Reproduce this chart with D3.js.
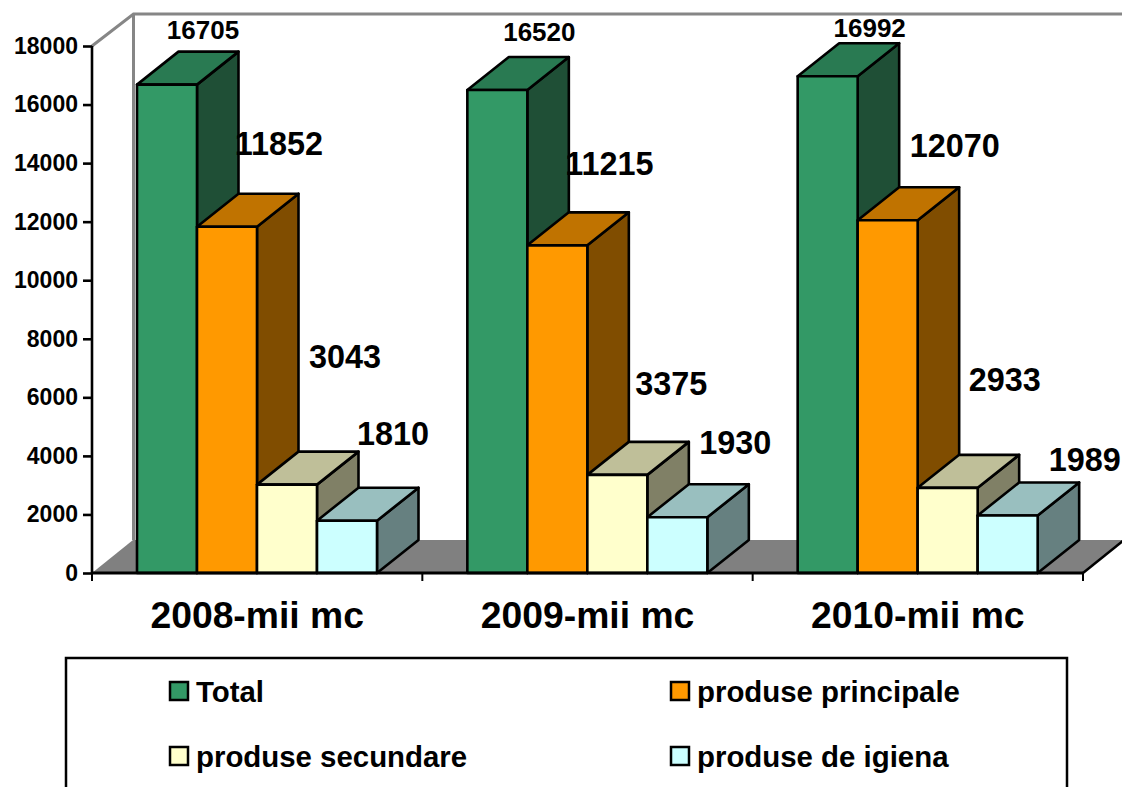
<!DOCTYPE html>
<html>
<head>
<meta charset="utf-8">
<script src="https://cdn.jsdelivr.net/npm/d3@7"></script>
<style>
  html, body { margin: 0; padding: 0; background: #fff; overflow: hidden; }
  svg { display: block; }
  text { font-family: "Liberation Sans", Arial, sans-serif; font-weight: bold; fill: #000; }
</style>
</head>
<body>
<svg id="chart" width="1122" height="787"></svg>
<script>
const categories = ["2008-mii mc", "2009-mii mc", "2010-mii mc"];
const seriesNames = ["Total", "produse principale", "produse secundare", "produse de igiena"];
const total = [16705, 16520, 16992];
const principale = [11852, 11215, 12070];
const secundare = [3043, 3375, 2933];
const igiena = [1810, 1930, 1989];
const yTicks = [0, 2000, 4000, 6000, 8000, 10000, 12000, 14000, 16000, 18000];

const seriesValues = [total, principale, secundare, igiena];
const frontColors = ["#339966", "#ff9900", "#ffffcc", "#ccffff"];
const topColors = ["#297a52", "#c07300", "#bfbf99", "#99bfbf"];
const sideColors = ["#1f4f36", "#804d00", "#808066", "#668080"];

// label positions relative to the bar's front top-right corner, hand placed like in the original
const labelOffsets = [
  [[6, -54], [22, -82], [28, -127], [16, -86]],
  [[12, -57], [22, -81], [24, -90], [28, -73]],
  [[12, -48], [37, -74], [27, -107], [47, -55]]
];

const svg = d3.select("#chart");
const depthX = 41.5, depthY = -33;
const topNudge = 0.7;

const x = d3.scaleBand().domain(categories).range([92, 1083]);
const y = d3.scaleLinear().domain([0, 18000]).range([573, 46]);
const inner = d3.scaleBand().domain(d3.range(seriesNames.length)).range([45, 285]);

const shape = pts => pts.map(p => p.join(",")).join(" ");

// floor
svg.append("polygon")
  .attr("points", shape([[92, 573], [133, 540], [1124, 540], [1083, 573]]))
  .attr("fill", "#808080");
svg.append("line")
  .attr("x1", 1083).attr("y1", 573).attr("x2", 1124).attr("y2", 540)
  .attr("stroke", "#000").attr("stroke-width", 2.5);

// back wall edges
svg.append("path")
  .attr("d", "M92,46L133.5,14L1122,14M133.5,14V540")
  .attr("fill", "none").attr("stroke", "#868686").attr("stroke-width", 3);

// bars, left to right so each one covers the side of the previous
const bars = svg.append("g").attr("stroke", "#000").attr("stroke-width", 2.6).attr("stroke-linejoin", "round");
categories.forEach((cat, c) => {
  seriesValues.forEach((vals, s) => {
    const x0 = x(cat) + inner(s), x1 = x0 + inner.bandwidth();
    const y0 = y(0), y1 = y(vals[c]) + topNudge;
    bars.append("polygon")
      .attr("points", shape([[x1, y1], [x1 + depthX, y1 + depthY], [x1 + depthX, y0 + depthY], [x1, y0]]))
      .attr("fill", sideColors[s]);
    bars.append("polygon")
      .attr("points", shape([[x0, y1], [x0 + depthX, y1 + depthY], [x1 + depthX, y1 + depthY], [x1, y1]]))
      .attr("fill", topColors[s]);
    bars.append("rect")
      .attr("x", x0).attr("y", y1)
      .attr("width", x1 - x0).attr("height", y0 - y1)
      .attr("fill", frontColors[s]);
  });
});

// axes
const yAxis = svg.append("g")
  .attr("transform", "translate(92,0)")
  .call(d3.axisLeft(y).tickValues(yTicks).tickFormat(d3.format("d")).tickSize(9).tickPadding(5));
yAxis.selectAll("text").attr("font-size", 23).attr("font-family", null).attr("fill", null);
yAxis.selectAll("line, path").attr("stroke", "#000").attr("stroke-width", 2.6);
yAxis.select("path").attr("d", "M0,46V573");

const xAxis = svg.append("g")
  .attr("transform", "translate(0,573)")
  .call(d3.axisBottom(x).tickSize(0).tickPadding(29));
xAxis.selectAll("text").attr("font-size", 37.3).attr("font-family", null).attr("fill", null);
xAxis.select("path").attr("stroke", "#000").attr("stroke-width", 2.8).attr("d", "M92,0H1083");
// ticks sit on the category boundaries
xAxis.selectAll(".tick line").remove();
xAxis.selectAll(".bound")
  .data(categories.map(c => x(c)).concat(x.range()[1]))
  .join("line")
  .attr("x1", d => d).attr("x2", d => d)
  .attr("y1", 0).attr("y2", 8)
  .attr("stroke", "#000").attr("stroke-width", 2);

// value labels
categories.forEach((cat, c) => {
  seriesValues.forEach((vals, s) => {
    const xr = x(cat) + inner(s) + inner.bandwidth();
    const off = labelOffsets[c][s];
    svg.append("text")
      .attr("x", xr + off[0])
      .attr("y", y(vals[c]) + off[1])
      .attr("text-anchor", "middle")
      .attr("dominant-baseline", "central")
      .attr("font-size", s === 0 ? 26 : 32.4)
      .text(vals[c]);
  });
});

// legend box, the bottom edge falls outside the picture
svg.append("path")
  .attr("d", "M66,787V658H1067V787")
  .attr("fill", "none").attr("stroke", "#000").attr("stroke-width", 2.5);

const legendCols = [170, 671], legendRows = [691, 756];
const legend = svg.append("g");
seriesNames.forEach((name, i) => {
  const lx = legendCols[i % 2], ly = legendRows[Math.floor(i / 2)];
  legend.append("rect")
    .attr("x", lx).attr("y", ly - 9)
    .attr("width", 18).attr("height", 18)
    .attr("fill", frontColors[i])
    .attr("stroke", "#000").attr("stroke-width", 2.5);
  legend.append("text")
    .attr("x", lx + 26).attr("y", ly)
    .attr("dominant-baseline", "central")
    .attr("font-size", 29.4)
    .text(name);
});
</script>
</body>
</html>
